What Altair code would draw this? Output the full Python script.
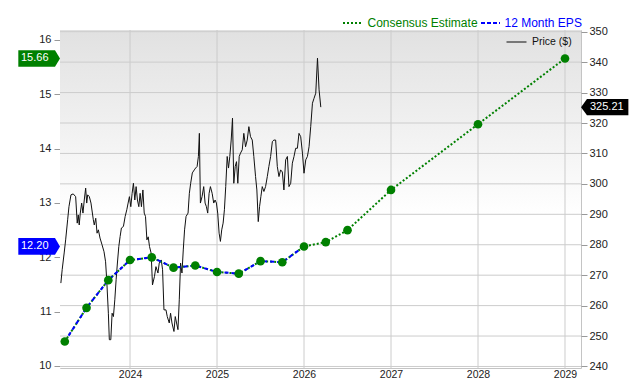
import altair as alt
import pandas as pd

# ---------------- data ----------------
year_ticks = [2024, 2025, 2026, 2027, 2028, 2029]
eps_ticks = [10, 11, 12, 13, 14, 15, 16]
price_ticks = [240, 250, 260, 270, 280, 290, 300, 310, 320, 330, 340, 350]

# 12 Month EPS (quarterly, decimal years)
eps_dates = [2023.25, 2023.5, 2023.75, 2024.0, 2024.25, 2024.5, 2024.75,
             2025.0, 2025.25, 2025.5, 2025.75, 2026.0]
eps_values = [10.45, 11.07, 11.58, 11.95, 12.00, 11.81, 11.85,
              11.73, 11.70, 11.93, 11.91, 12.20]

# Consensus Estimate
est_dates = [2026.0, 2026.25, 2026.5, 2027.0, 2028.0, 2029.0]
est_values = [12.20, 12.28, 12.50, 13.24, 14.45, 15.66]

# Price ($)
price_t = [
    2023.205, 2023.220, 2023.243, 2023.260, 2023.283, 2023.298, 2023.321, 2023.347, 2023.375, 2023.393,
    2023.405, 2023.416, 2023.428, 2023.444, 2023.459, 2023.474, 2023.490, 2023.502, 2023.513, 2023.532,
    2023.551, 2023.578, 2023.589, 2023.606, 2023.621, 2023.636, 2023.655, 2023.678, 2023.701, 2023.719,
    2023.732, 2023.751, 2023.762, 2023.779, 2023.794, 2023.809, 2023.825, 2023.840, 2023.855, 2023.871,
    2023.886, 2023.901, 2023.924, 2023.944, 2023.963, 2023.978, 2023.993, 2024.009, 2024.024, 2024.039,
    2024.055, 2024.070, 2024.085, 2024.101, 2024.116, 2024.131, 2024.148, 2024.163, 2024.178, 2024.194,
    2024.209, 2024.224, 2024.243, 2024.258, 2024.281, 2024.298, 2024.321, 2024.336, 2024.359, 2024.374,
    2024.390, 2024.413, 2024.428, 2024.451, 2024.466, 2024.482, 2024.505, 2024.520, 2024.535, 2024.551,
    2024.566, 2024.581, 2024.597, 2024.612, 2024.627, 2024.644, 2024.667, 2024.682, 2024.697, 2024.716,
    2024.739, 2024.754, 2024.771, 2024.786, 2024.797, 2024.809, 2024.828, 2024.847, 2024.863, 2024.878,
    2024.893, 2024.909, 2024.924, 2024.944, 2024.962, 2024.978, 2024.993, 2025.008, 2025.024, 2025.039,
    2025.054, 2025.070, 2025.085, 2025.100, 2025.117, 2025.132, 2025.147, 2025.163, 2025.178, 2025.193,
    2025.209, 2025.224, 2025.239, 2025.255, 2025.270, 2025.290, 2025.308, 2025.328, 2025.347, 2025.366,
    2025.385, 2025.405, 2025.423, 2025.443, 2025.458, 2025.474, 2025.489, 2025.504, 2025.520, 2025.539,
    2025.558, 2025.578, 2025.596, 2025.616, 2025.636, 2025.654, 2025.674, 2025.693, 2025.712, 2025.731,
    2025.751, 2025.769, 2025.789, 2025.809, 2025.827, 2025.847, 2025.866, 2025.885, 2025.904, 2025.924,
    2025.942, 2025.962, 2025.982, 2026.000, 2026.020, 2026.039, 2026.058, 2026.077, 2026.097, 2026.115,
    2026.135, 2026.155, 2026.173, 2026.193,
]
price_v = [
    267.4, 271.8, 277.3, 281.6, 288.2, 292.5, 296.4, 296.7, 295.8, 287.1,
    289.8, 286.5, 290.4, 293.7, 290.4, 294.7, 298.6, 293.7, 296.4, 295.8,
    293.7, 288.2, 286.5, 288.7, 283.8, 284.9, 282.2, 280.0, 277.7, 274.4,
    268.5, 257.5, 248.8, 248.8, 257.5, 256.4, 261.9, 268.5, 274.0, 279.4,
    282.7, 285.5, 286.0, 289.3, 291.5, 293.7, 295.8, 292.5, 296.9, 300.2,
    294.7, 299.1, 294.7, 292.5, 296.9, 292.5, 298.0, 290.4, 289.3, 281.6,
    282.6, 279.4, 277.2, 266.8, 269.6, 272.8, 270.7, 274.0, 275.0, 271.8,
    258.6, 258.6, 256.4, 254.3, 257.5, 254.3, 251.5, 256.4, 254.3, 252.1,
    261.9, 274.0, 270.7, 278.3, 284.9, 289.3, 290.4, 296.9, 300.2, 303.6,
    304.6, 305.2, 305.7, 309.0, 316.6, 293.7, 295.8, 299.1, 293.7, 292.5,
    290.4, 296.9, 299.1, 296.9, 293.7, 294.7, 293.7, 290.4, 283.8, 281.1,
    284.9, 287.1, 291.5, 299.1, 309.0, 305.2, 309.0, 314.4, 321.6, 300.2,
    305.7, 307.3, 300.2, 309.0, 310.1, 311.2, 316.6, 312.2, 314.4, 318.8,
    315.5, 314.4, 309.0, 302.4, 298.0, 287.6, 292.5, 295.8, 299.1, 297.5,
    299.1, 302.4, 305.7, 309.0, 313.9, 314.4, 314.4, 305.7, 302.4, 304.6,
    303.9, 298.0, 307.9, 309.0, 299.1, 300.2, 306.8, 309.0, 311.7, 311.7,
    316.6, 315.5, 310.1, 303.5, 307.9, 309.0, 312.2, 318.8, 326.5, 328.1,
    329.8, 341.3, 330.9, 325.21,
]

legend_labels = ["Consensus Estimate", "12 Month EPS", "Price ($)"]

# ---------------- styling ----------------
W, H = 521, 338
FONT = "Liberation Sans"
GREEN = "#008000"
BLUE = "#0000ff"
GRID = "#cccccc"
TXT = "#222222"

x_scale = alt.Scale(domain=[2023.195, 2029.184], nice=False, zero=False)
x_axis = alt.Axis(values=year_ticks, format="d", grid=False, ticks=False, domain=False,
                  labelPadding=1, labelFontSize=10.5, labelColor=TXT, labelFont=FONT, title=None)
eps_scale = alt.Scale(domain=[9.963, 16.184], nice=False, zero=False)
price_scale = alt.Scale(domain=[239.5, 350.56], nice=False, zero=False)


def X():
    return alt.X("t:Q", scale=x_scale, axis=x_axis)


left_axis = alt.Axis(orient="left", values=eps_ticks, grid=False, domain=False,
                     tickColor="#999999", tickSize=6, labelPadding=3, labelFontSize=11,
                     labelColor=TXT, labelFont=FONT, title=None)
right_axis = alt.Axis(orient="right", values=price_ticks, grid=False, domain=False,
                      tickColor="#999999", tickSize=6, labelPadding=2, labelFontSize=11,
                      labelColor=TXT, labelFont=FONT, title=None)

one = pd.DataFrame({"k": [0]})

# background gradient
bg = alt.Chart(one).mark_rect(
    color=alt.Gradient(
        gradient="linear",
        stops=[alt.GradientStop(offset=0, color="#e1e1e1"),
               alt.GradientStop(offset=0.55, color="#ffffff"),
               alt.GradientStop(offset=1, color="#ffffff")],
        x1=0, x2=0, y1=0, y2=1)
).encode(x=alt.value(0), x2=alt.value(W), y=alt.value(0), y2=alt.value(H))

# gridlines
vgrid = alt.Chart(pd.DataFrame({"t": year_ticks})).mark_rule(
    color=GRID, strokeWidth=1).encode(x=X())
hgrid = alt.Chart(pd.DataFrame({"p": price_ticks})).mark_rule(
    color=GRID, strokeWidth=1).encode(y=alt.Y("p:Q", scale=price_scale, axis=None))

# price
price_df = pd.DataFrame({"t": price_t, "p": price_v})
price_line = alt.Chart(price_df).mark_line(color="#111111", strokeWidth=1).encode(
    x=X(), y=alt.Y("p:Q", scale=price_scale, axis=right_axis))

last_price = price_v[-1]
plab_df = pd.DataFrame({"p": [last_price], "txt": [f"{last_price:.2f}"]})
RIGHT_PATH = "M-1,0L-0.75,-0.34L1,-0.34L1,0.34L-0.75,0.34Z"
plab_box = alt.Chart(plab_df).mark_point(
    shape=RIGHT_PATH, filled=True, size=2237, color="#000000", opacity=1, strokeWidth=0
).encode(x=alt.value(544.7), y=alt.Y("p:Q", scale=price_scale, axis=None))
plab_txt = alt.Chart(plab_df).mark_text(
    align="left", baseline="middle", color="white", fontSize=11, font=FONT
).encode(x=alt.value(530), y=alt.Y("p:Q", scale=price_scale, axis=None), text="txt:N")

# EPS lines
all_df = pd.DataFrame({"t": eps_dates + est_dates[1:], "v": eps_values + est_values[1:]})
eps_df = pd.DataFrame({"t": eps_dates, "v": eps_values})
est_line = alt.Chart(all_df).mark_line(color=GREEN, strokeWidth=2, strokeDash=[2, 2]).encode(
    x=X(), y=alt.Y("v:Q", scale=eps_scale, axis=left_axis))
eps_line = alt.Chart(eps_df).mark_line(color=BLUE, strokeWidth=2, strokeDash=[4, 3]).encode(
    x=X(), y=alt.Y("v:Q", scale=eps_scale, axis=None))
pts = alt.Chart(all_df).mark_circle(color=GREEN, size=75, opacity=1).encode(
    x=X(), y=alt.Y("v:Q", scale=eps_scale, axis=None))

# left value tags
tag_df = pd.DataFrame({
    "v": [est_values[-1], eps_values[-1]],
    "txt": [f"{est_values[-1]:.2f}", f"{eps_values[-1]:.2f}"],
    "c": [GREEN, BLUE],
})
LEFT_PATH = "M-1,-0.4L0.76,-0.4L1,0L0.76,0.4L-1,0.4Z"
tag_box = alt.Chart(tag_df).mark_point(
    shape=LEFT_PATH, filled=True, size=1739, opacity=1, strokeWidth=0
).encode(x=alt.value(-20.85), y=alt.Y("v:Q", scale=eps_scale, axis=None),
         color=alt.Color("c:N", scale=None))
tag_txt = alt.Chart(tag_df).mark_text(
    align="left", baseline="middle", color="white", fontSize=11, font=FONT
).encode(x=alt.value(-39), y=alt.Y("v:Q", scale=eps_scale, axis=None), text="txt:N")

# legends
leg1_sym = alt.Chart(one).mark_rule(color=GREEN, strokeWidth=2, strokeDash=[2, 2]).encode(
    x=alt.value(283), x2=alt.value(302), y=alt.value(-7))
leg1_txt = alt.Chart(pd.DataFrame({"s": [legend_labels[0]]})).mark_text(
    align="left", baseline="middle", color=GREEN, fontSize=12, font=FONT).encode(
    x=alt.value(307.5), y=alt.value(-7), text="s:N")
leg2_sym = alt.Chart(one).mark_rule(color=BLUE, strokeWidth=2, strokeDash=[4, 2]).encode(
    x=alt.value(421), x2=alt.value(440), y=alt.value(-7))
leg2_txt = alt.Chart(pd.DataFrame({"s": [legend_labels[1]]})).mark_text(
    align="left", baseline="middle", color=BLUE, fontSize=12, font=FONT).encode(
    x=alt.value(444.5), y=alt.value(-7), text="s:N")
leg3_sym = alt.Chart(one).mark_rule(color="#777777", strokeWidth=2).encode(
    x=alt.value(446.5), x2=alt.value(466.5), y=alt.value(12))
leg3_txt = alt.Chart(pd.DataFrame({"s": [legend_labels[2]]})).mark_text(
    align="left", baseline="middle", color="#111111", fontSize=10.5, font=FONT).encode(
    x=alt.value(472), y=alt.value(12), text="s:N")

chart = alt.layer(
    bg, vgrid, hgrid, price_line, est_line, eps_line, pts,
    plab_box, plab_txt, tag_box, tag_txt,
    leg1_sym, leg1_txt, leg2_sym, leg2_txt, leg3_sym, leg3_txt,
).resolve_scale(y="independent").properties(
    width=W, height=H,
    padding={"left": 60, "top": 30, "right": 59, "bottom": 20},
    autosize=alt.AutoSizeParams(type="none"),
).configure_view(stroke="#c4c4c4", strokeWidth=1)

chart.save("out.html", embed_options={"renderer": "svg", "actions": False})
